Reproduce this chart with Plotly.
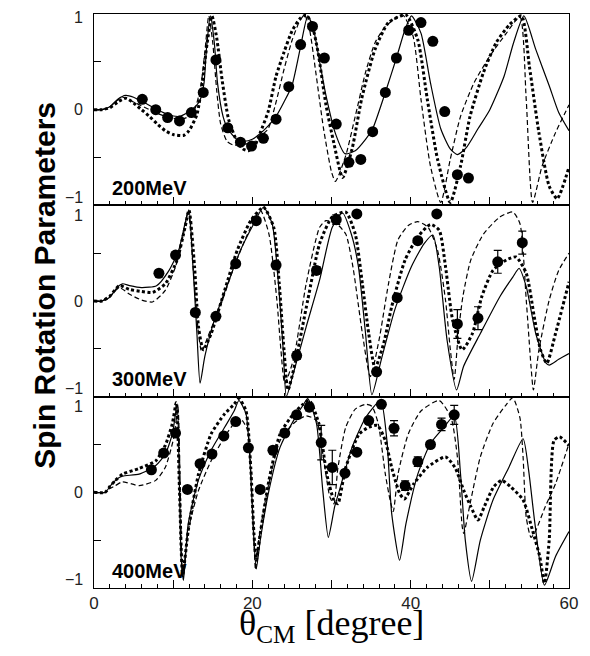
import plotly.graph_objects as go
from plotly.subplots import make_subplots

# ---------------- 200 MeV ----------------
s200_x = [0, 1, 2, 3, 4, 5, 6, 7.8, 9.3, 10.8, 12, 13, 13.4, 13.9, 14.2, 14.7, 15.2, 15.6, 16.3, 16.9, 18, 19, 20, 21, 22, 23, 24, 25, 26, 27, 27.7, 28.5, 29.3, 30.5, 31.7, 33, 34.3, 35.2, 36.8, 38.2, 39.3, 40.1, 41.3, 42.5, 43.8, 45, 45.9, 47, 48.5, 50, 51.8, 53, 54.3, 55.8, 57.5, 58.7, 60]
s200_y = [0, 0.0, 0.03, 0.11, 0.15, 0.13, 0.09, 0.01, -0.05, -0.07, -0.02, 0.05, 0.1, 0.28, 0.63, 0.98, 0.7, 0.28, -0.07, -0.2, -0.31, -0.33, -0.31, -0.25, -0.17, -0.07, 0.08, 0.25, 0.62, 0.98, 0.85, 0.5, 0.15, -0.25, -0.46, -0.43, -0.31, -0.2, 0.18, 0.54, 0.84, 0.98, 0.8, 0.28, -0.2, -0.41, -0.47, -0.4, -0.2, 0.0, 0.35, 0.7, 0.98, 0.63, 0.25, -0.03, -0.22]
d200_x = [0, 1, 2, 3, 3.6, 5, 6, 7, 8, 9, 10, 11, 12, 12.8, 13.5, 14, 14.5, 15, 15.5, 16, 16.8, 17.6, 19, 20.2, 21, 22, 23, 24, 25, 26, 26.6, 27.2, 28, 29, 30, 30.5, 31.8, 33, 34.3, 35.5, 36.8, 38, 39, 40.3, 41.3, 42.5, 43.8, 45, 46.3, 48, 50, 52.1, 53.8, 54.6, 55.4, 56.6, 58.3, 60]
d200_y = [0, 0.0, 0.03, 0.1, 0.13, 0.08, 0.04, 0.0, -0.04, -0.07, -0.09, -0.1, -0.07, 0.02, 0.25, 0.6, 0.98, 0.7, 0.2, -0.15, -0.33, -0.37, -0.36, -0.34, -0.28, -0.2, 0.08, 0.42, 0.72, 0.93, 0.99, 0.85, 0.4, -0.2, -0.65, -0.75, -0.48, -0.07, 0.39, 0.7, 0.87, 0.95, 0.99, 0.77, 0.11, -0.59, -0.97, -0.52, -0.07, 0.28, 0.56, 0.8, 0.97, 0.1, -0.97, -0.59, -0.24, 0.05]
t200_x = [0, 1, 2, 3, 4, 5, 6, 7, 8, 9, 10, 11.3, 12, 13, 13.7, 14.3, 14.9, 15.5, 16.2, 17, 18, 18.8, 19.5, 20.3, 21, 22, 23, 24, 25, 26, 26.8, 27.5, 28.3, 29.3, 30.3, 31.4, 32.6, 33.8, 35.5, 37.2, 39.4, 40.9, 42.1, 43.4, 45, 46.3, 47.5, 49.2, 50.8, 52.5, 54, 55, 56.2, 57.5, 58.5, 60]
t200_y = [0, 0.0, 0.02, 0.08, 0.12, 0.07, 0.0, -0.07, -0.15, -0.22, -0.26, -0.27, -0.22, -0.05, 0.3, 0.7, 0.98, 0.75, 0.3, -0.1, -0.32, -0.41, -0.43, -0.38, -0.24, -0.02, 0.35, 0.6, 0.82, 0.95, 0.99, 0.9, 0.6, 0.05, -0.35, -0.71, -0.41, 0.11, 0.63, 0.91, 0.99, 0.73, 0.11, -0.52, -0.97, -0.59, -0.07, 0.39, 0.7, 0.89, 0.98, 0.45, -0.24, -0.8, -0.93, -0.6]
p200_x = [6.1, 7.8, 9.3, 10.8, 12.3, 13.8, 15.4, 16.9, 18.5, 19.9, 21.4, 23.0, 24.6, 26.1, 27.6, 29.1, 30.6, 32.2, 33.7, 35.2, 36.8, 38.2, 39.75, 41.3, 42.8, 44.3, 45.9, 47.3]
p200_y = [0.108, 0.0, -0.083, -0.118, -0.03, 0.18, 0.52, -0.19, -0.34, -0.38, -0.30, -0.10, 0.24, 0.68, 0.87, 0.54, -0.15, -0.55, -0.52, -0.23, 0.18, 0.54, 0.83, 0.91, 0.715, -0.02, -0.68, -0.715]
e200 = [0] * len(p200_x)

# ---------------- 300 MeV ----------------
s300_x = [0, 1, 2, 3, 3.6, 4.5, 6, 7.9, 9.4, 10.7, 11.5, 12.0, 12.5, 13.0, 13.4, 14.0, 15.2, 16.9, 18.5, 20.2, 21.4, 22.5, 23.3, 23.9, 24.3, 25.2, 26.8, 28.5, 30.1, 31.4, 32.5, 33.4, 34.3, 35.1, 36.3, 38.0, 40.1, 41.7, 42.8, 43.6, 44.6, 45.8, 46.7, 48.8, 51.3, 52.9, 53.7, 54.6, 55.8, 57.1, 57.5, 58.7, 60]
s300_y = [0, 0.0, 0.04, 0.15, 0.18, 0.16, 0.14, 0.16, 0.31, 0.53, 0.81, 0.95, 0.36, -0.34, -0.86, -0.58, -0.2, 0.18, 0.53, 0.81, 0.98, 0.81, 0.18, -0.51, -1.0, -0.75, -0.27, 0.22, 0.77, 0.92, 0.7, 0.36, -0.34, -0.98, -0.61, -0.09, 0.36, 0.6, 0.69, 0.36, -0.41, -0.93, -0.68, -0.34, 0.05, 0.25, 0.34, 0.15, -0.34, -0.65, -0.67, -0.61, -0.55]
d300_x = [0, 1, 2, 3.2, 4.5, 6.0, 7.4, 9.0, 10.3, 11.3, 11.9, 12.5, 13.2, 13.6, 14.4, 16.1, 17.7, 19.4, 21.0, 22.1, 23.1, 23.6, 24.1, 25.2, 26.8, 28.5, 29.3, 30.6, 31.8, 32.7, 33.9, 34.9, 36.0, 37.2, 38.4, 39.7, 40.9, 42.2, 43.4, 44.4, 45.0, 45.5, 46.0, 46.6, 47.6, 49.2, 51.3, 52.9, 53.8, 54.6, 55.2, 55.5, 56.2, 57.5, 58.7, 60]
d300_y = [0, 0.0, 0.05, 0.14, 0.07, 0.01, -0.01, 0.11, 0.36, 0.7, 0.95, 0.36, -0.34, -0.53, -0.37, -0.02, 0.36, 0.7, 0.95, 0.7, 0.01, -0.5, -0.86, -0.61, 0.18, 0.77, 0.84, 0.81, 0.7, 0.36, -0.34, -0.79, -0.41, 0.18, 0.64, 0.79, 0.83, 0.77, 0.53, 0.01, -0.5, -0.82, -0.35, 0.05, 0.43, 0.7, 0.88, 0.93, 0.81, 0.01, -0.68, -0.93, -0.51, 0.01, 0.32, 0.5]
t300_x = [0, 1, 2, 3.2, 4.5, 6.0, 7.4, 9.0, 10.5, 11.5, 12.0, 12.7, 13.2, 13.8, 14.8, 16.5, 18.1, 19.8, 21.4, 22.7, 23.4, 24.0, 24.5, 25.4, 27.0, 28.5, 30.1, 31.8, 33.0, 33.9, 34.7, 35.5, 36.6, 37.6, 39.3, 40.9, 42.5, 43.6, 44.4, 45.3, 46.5, 47.8, 49.0, 50.4, 52.1, 53.3, 54.6, 55.6, 56.4, 57.2, 58.3, 60]
t300_y = [0, 0.0, 0.05, 0.16, 0.12, 0.1, 0.09, 0.18, 0.43, 0.77, 0.95, 0.36, -0.27, -0.51, -0.34, 0.11, 0.53, 0.84, 0.98, 0.77, 0.18, -0.51, -0.93, -0.65, 0.01, 0.6, 0.88, 0.93, 0.7, 0.18, -0.34, -0.7, -0.44, -0.06, 0.43, 0.67, 0.8, 0.74, 0.36, -0.2, -0.51, -0.34, 0.05, 0.32, 0.43, 0.46, 0.29, -0.16, -0.51, -0.65, -0.34, 0.2]
p300_x = [8.2, 10.3, 12.8, 15.4, 17.9, 20.5, 23.0, 25.6, 28.1, 30.6, 33.2, 35.7, 38.3, 40.9, 43.3, 45.9, 48.5, 51.0, 54.1]
p300_y = [0.29, 0.48, -0.12, -0.16, 0.39, 0.84, 0.375, -0.57, 0.32, 0.85, 0.91, -0.74, 0.035, 0.63, 0.91, -0.24, -0.18, 0.41, 0.61]
e300 = [0, 0, 0, 0, 0, 0, 0.04, 0.04, 0.04, 0.05, 0, 0, 0, 0, 0, 0.15, 0.12, 0.12, 0.12]

# ---------------- 400 MeV ----------------
s400_x = [0, 1.4, 2.2, 2.9, 3.6, 5.7, 7.8, 9.0, 9.9, 10.5, 10.8, 11.0, 11.3, 11.9, 13.2, 14.8, 16.5, 17.7, 18.3, 19.2, 19.8, 20.2, 20.5, 21.0, 22.1, 23.5, 25.2, 26.4, 27.0, 28.1, 28.9, 29.6, 30.4, 31.0, 32.6, 34.3, 36.2, 37.0, 37.6, 38.6, 39.4, 40.9, 42.5, 44.2, 45.5, 46.3, 46.9, 47.7, 48.8, 50.4, 52.4, 54.2, 54.9, 55.7, 56.9, 58.3, 60]
s400_y = [0, 0.0, 0.08, 0.14, 0.17, 0.19, 0.28, 0.4, 0.61, 0.92, 0.02, -0.67, -0.92, -0.33, 0.13, 0.44, 0.68, 0.85, 0.96, 0.82, 0.19, -0.5, -0.8, -0.5, 0.02, 0.47, 0.75, 0.91, 0.98, 0.72, 0.02, -0.47, -0.15, 0.02, 0.47, 0.78, 0.96, 0.54, -0.22, -0.71, -0.33, 0.19, 0.51, 0.68, 0.8, 0.19, -0.5, -0.93, -0.5, -0.08, 0.26, 0.56, 0.23, -0.33, -0.97, -0.67, -0.41]
d400_x = [0, 1.4, 2.0, 2.7, 3.6, 5.7, 7.8, 9.0, 10.1, 10.6, 10.9, 11.2, 11.9, 13.2, 14.8, 16.5, 17.7, 18.5, 19.4, 19.9, 20.2, 20.4, 20.8, 21.9, 23.5, 25.2, 26.8, 28.1, 29.0, 29.8, 30.3, 30.8, 31.8, 33.0, 34.3, 35.1, 35.9, 36.8, 37.4, 37.8, 38.4, 39.7, 41.3, 43.6, 45.1, 45.9, 46.5, 46.7, 47.6, 48.8, 50.4, 52.1, 52.9, 53.8, 54.2, 54.6, 55.2, 55.8, 57.0, 58.3, 60]
d400_y = [0, 0.0, 0.04, 0.07, 0.11, 0.07, 0.125, 0.26, 0.58, 0.89, 0.02, -0.88, -0.4, 0.02, 0.33, 0.58, 0.72, 0.77, 0.65, 0.02, -0.5, -0.81, -0.5, 0.02, 0.54, 0.72, 0.8, 0.75, 0.35, -0.05, -0.12, 0.25, 0.68, 0.87, 0.92, 0.9, 0.72, 0.19, -0.08, -0.2, 0.19, 0.61, 0.85, 0.96, 0.78, 0.37, -0.35, -0.43, -0.08, 0.37, 0.72, 0.92, 0.99, 0.78, 0.37, -0.26, -0.47, -0.4, -0.15, 0.09, 0.51]
t400_x = [0, 1.4, 2.0, 2.7, 3.6, 5.7, 7.8, 9.0, 9.9, 10.4, 10.8, 11.2, 11.9, 13.2, 14.8, 16.5, 17.7, 18.3, 19.2, 19.8, 20.2, 20.5, 21.0, 22.1, 23.5, 25.2, 26.4, 27.2, 28.4, 29.4, 30.3, 30.8, 31.8, 33.5, 34.7, 35.8, 36.8, 37.6, 38.6, 39.2, 40.4, 42.1, 44.4, 45.6, 46.7, 47.6, 48.5, 49.3, 50.5, 51.5, 52.6, 54.2, 55.4, 56.3, 56.9, 57.5, 58.1, 58.8, 60]
t400_y = [0, 0.0, 0.06, 0.125, 0.19, 0.25, 0.33, 0.49, 0.72, 0.94, 0.02, -0.86, -0.4, 0.19, 0.61, 0.82, 0.92, 0.98, 0.85, 0.26, -0.43, -0.71, -0.43, 0.125, 0.61, 0.82, 0.92, 0.96, 0.72, 0.19, -0.08, -0.12, 0.26, 0.61, 0.68, 0.7, 0.54, 0.26, -0.01, -0.07, 0.09, 0.26, 0.37, 0.26, 0.02, -0.15, -0.29, -0.15, 0.06, 0.125, 0.06, -0.08, -0.4, -0.67, -0.95, -0.5, 0.54, 0.58, 0.49]
p400_x = [7.25, 8.8, 10.3, 11.8, 13.4, 14.9, 16.4, 17.9, 19.5, 21.0, 22.6, 24.1, 25.6, 27.2, 28.7, 30.1, 31.7, 33.2, 34.7, 36.3, 37.9, 39.3, 40.9, 42.5, 43.9, 45.5]
p400_y = [0.236, 0.41, 0.62, 0.03, 0.3, 0.4, 0.59, 0.74, 0.465, 0.03, 0.44, 0.62, 0.81, 0.89, 0.52, 0.26, 0.2, 0.42, 0.75, 0.92, 0.67, 0.07, 0.32, 0.5, 0.71, 0.81]
e400 = [0, 0, 0, 0, 0, 0, 0, 0, 0, 0, 0, 0.03, 0.03, 0.04, 0.18, 0.18, 0, 0, 0, 0, 0.08, 0.05, 0.05, 0.03, 0.065, 0.1]

# y tick labels (value, text, vertical offset in px as in the reference)
ylabels_top = [(1, "1", -3), (0, "0", 0), (-1, "−1", 8)]
ylabels_low = [(1, "1", -10), (0, "0", 0), (-1, "−1", 8)]

panels = [
    ("200MeV", s200_x, s200_y, d200_x, d200_y, t200_x, t200_y, p200_x, p200_y, e200),
    ("300MeV", s300_x, s300_y, d300_x, d300_y, t300_x, t300_y, p300_x, p300_y, e300),
    ("400MeV", s400_x, s400_y, d400_x, d400_y, t400_x, t400_y, p400_x, p400_y, e400),
]

fig = make_subplots(rows=3, cols=1, shared_xaxes=True, vertical_spacing=0)

tickfont = dict(family="Liberation Sans", size=16, color="#222")

for i, (lab, sx, sy, dx, dy, tx, ty, px, py, pe) in enumerate(panels):
    r = i + 1
    fig.add_trace(go.Scatter(x=sx, y=sy, mode="lines", line=dict(color="black", width=1.2, shape="spline", smoothing=0.6), showlegend=False), row=r, col=1)
    fig.add_trace(go.Scatter(x=dx, y=dy, mode="lines", line=dict(color="black", width=1.2, dash="5px,3px", shape="spline", smoothing=0.6), showlegend=False), row=r, col=1)
    fig.add_trace(go.Scatter(x=tx, y=ty, mode="lines", line=dict(color="black", width=3, dash="3px,2.5px", shape="spline", smoothing=0.6), showlegend=False), row=r, col=1)
    fig.add_trace(go.Scatter(x=px, y=py, mode="markers", marker=dict(color="black", size=11),
                             error_y=dict(type="data", array=pe, visible=True, color="black", thickness=1.2, width=4),
                             showlegend=False), row=r, col=1)
    yref = "y" if r == 1 else f"y{r}"
    xref = "x" if r == 1 else f"x{r}"
    fig.add_annotation(x=2.0, y=-0.82, xref=xref, yref=yref, text=f"<b>{lab}</b>",
                       showarrow=False, xanchor="left", yanchor="middle",
                       font=dict(family="Liberation Sans", size=20, color="black"))
    for val, txt, off in (ylabels_top if r == 1 else ylabels_low):
        fig.add_annotation(x=0, y=val, xref="paper", yref=yref, text=txt, showarrow=False,
                           xanchor="right", yanchor="middle", xshift=-9, yshift=off, font=tickfont)
    fig.update_yaxes(row=r, col=1, range=[-1, 1], tick0=0, dtick=0.5, showticklabels=False,
                     ticks="inside", ticklen=7, tickcolor="black", showline=True, mirror=True,
                     linecolor="black", linewidth=1, showgrid=False, zeroline=False)
    fig.update_xaxes(row=r, col=1, range=[0, 60], tick0=0, dtick=10, ticklabelstep=2,
                     ticks="inside", ticklen=8, tickcolor="black",
                     minor=dict(dtick=2, ticks="inside", ticklen=4, tickcolor="black"),
                     showline=True, mirror=True, linecolor="black", linewidth=1,
                     showgrid=False, zeroline=False, showticklabels=(r == 3),
                     tickfont=dict(family="Liberation Sans", size=17, color="#222"))

fig.add_annotation(x=0.499, y=-0.07, xref="paper", yref="paper", text="θ<sub>CM</sub> [degree]",
                   showarrow=False, xanchor="center", yanchor="middle", yshift=3,
                   font=dict(family="Liberation Serif", size=36, color="black"))
fig.add_annotation(x=-0.1035, y=0.528, xref="paper", yref="paper", text="<b>Spin Rotation Parameters</b>",
                   showarrow=False, textangle=-90, xanchor="center", yanchor="middle",
                   font=dict(family="Liberation Sans", size=30, color="black"))

fig.update_layout(width=590, height=656, margin=dict(l=94, r=13, t=14, b=68),
                  plot_bgcolor="white", paper_bgcolor="white")
fig.write_html("out.html")
